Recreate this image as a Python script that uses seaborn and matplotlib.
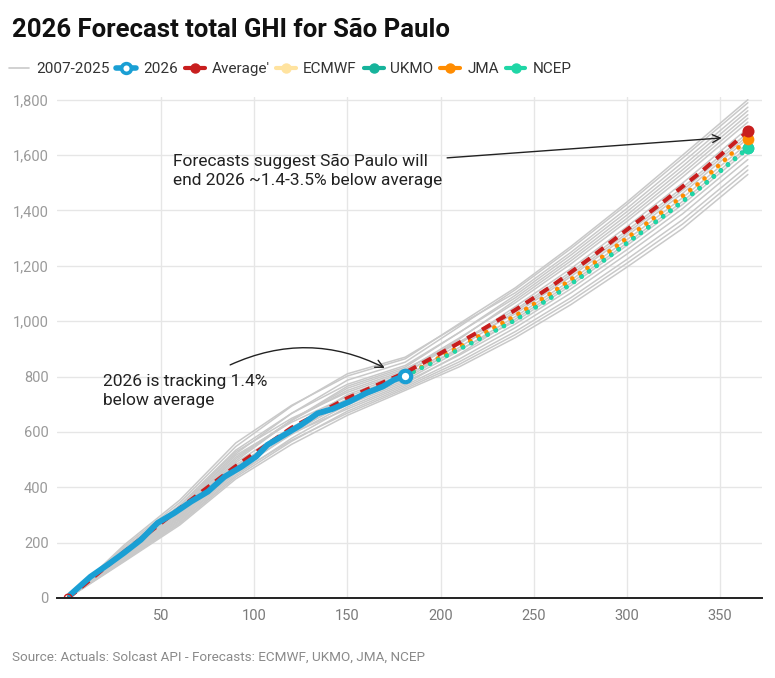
import numpy as np
import pandas as pd
import matplotlib
matplotlib.use("Agg")
import matplotlib.pyplot as plt
import seaborn as sns
from matplotlib.lines import Line2D
from matplotlib.ticker import FuncFormatter

sns.set_theme(style="white")
plt.rcParams['font.family'] = ['Roboto', 'DejaVu Sans']

# ---------------- data ----------------
hist_days = [0, 30, 60, 90, 120, 150, 181, 210, 240, 270, 300, 330, 365]
hist_years = list(range(2007, 2026))
hist_values = [
    [0, 191, 354, 560, 696, 802, 864, 991, 1120, 1270, 1430, 1600, 1800],
    [0, 173, 327, 521, 667, 787, 852, 980, 1113, 1262, 1421, 1589, 1789],
    [0, 185, 345, 547, 693, 810, 870, 987, 1102, 1249, 1407, 1574, 1773],
    [0, 161, 309, 495, 642, 765, 834, 959, 1093, 1239, 1395, 1560, 1760],
    [0, 179, 336, 534, 667, 772, 840, 959, 1084, 1228, 1383, 1547, 1746],
    [0, 149, 291, 469, 613, 735, 810, 935, 1075, 1218, 1371, 1534, 1733],
    [0, 167, 318, 508, 642, 750, 822, 939, 1066, 1207, 1360, 1521, 1719],
    [0, 158, 305, 489, 617, 720, 798, 917, 1052, 1190, 1341, 1499, 1697],
    [0, 176, 332, 528, 649, 743, 816, 924, 1041, 1178, 1327, 1483, 1681],
    [0, 143, 282, 456, 595, 713, 792, 905, 1034, 1169, 1317, 1473, 1670],
    [0, 164, 314, 502, 642, 758, 828, 925, 1026, 1161, 1308, 1462, 1660],
    [0, 152, 296, 476, 602, 705, 786, 893, 1016, 1148, 1294, 1446, 1643],
    [0, 137, 273, 443, 577, 690, 774, 881, 1007, 1138, 1282, 1433, 1630],
    [0, 170, 323, 515, 635, 728, 804, 897, 999, 1129, 1273, 1422, 1619],
    [0, 146, 287, 463, 591, 698, 780, 877, 989, 1117, 1258, 1407, 1603],
    [0, 155, 300, 482, 595, 683, 768, 863, 976, 1102, 1242, 1388, 1584],
    [0, 134, 269, 437, 566, 675, 762, 853, 962, 1085, 1223, 1367, 1562],
    [0, 140, 278, 450, 570, 668, 756, 844, 951, 1073, 1209, 1351, 1546],
    [0, 131, 264, 430, 555, 660, 750, 835, 940, 1060, 1195, 1335, 1530],
]

actual_days = [1, 12, 21, 30, 39, 48, 57, 66, 75, 84, 93, 101, 107, 116, 125,
               134, 142, 151, 160, 169, 175, 181]
actual_values = [11, 77, 119, 163, 210, 271, 307, 348, 384, 438, 474, 511, 553,
                 589, 625, 667, 683, 709, 740, 764, 788, 803]

avg_days = [0, 30, 60, 90, 120, 150, 181, 200, 220, 240, 260, 280, 300, 320, 340, 365]
avg_values = [0, 166, 324, 476, 615, 722, 814, 884, 960, 1040, 1128, 1226, 1330,
              1433, 1540, 1686]

fc_days = [181, 200, 220, 240, 260, 280, 300, 320, 340, 365]
ecmwf = [803, 869, 941, 1016, 1100, 1194, 1296, 1396, 1500, 1655]
ukmo = [803, 866, 935, 1006, 1090, 1183, 1283, 1382, 1486, 1627]
jma = [803, 871, 944, 1019, 1104, 1198, 1300, 1400, 1505, 1659]
ncep = [803, 864, 932, 1003, 1087, 1180, 1281, 1380, 1484, 1624]

x_ticks = [50, 100, 150, 200, 250, 300, 350]
y_ticks = [0, 200, 400, 600, 800, 1000, 1200, 1400, 1600, 1800]

# ---------------- colours ----------------
C_GRAY = "#c9c9c9"
C_BLUE = "#1a9fd4"
C_RED = "#c81e1e"
C_ECMWF = "#ffe39f"
C_UKMO = "#16b39b"
C_JMA = "#ff8c00"
C_NCEP = "#1fd6a6"

fig = plt.figure(figsize=(7.75, 6.78), dpi=100)
ax = fig.add_axes([0.0735, 0.118, 0.9095, 0.739])

# historical years
rows = []
for yr, vals in zip(hist_years, hist_values):
    for d, v in zip(hist_days, vals):
        rows.append((yr, d, v))
df_hist = pd.DataFrame(rows, columns=["year", "day", "ghi"])
sns.lineplot(data=df_hist, x="day", y="ghi", units="year", estimator=None,
             color=C_GRAY, linewidth=1.1, ax=ax, legend=False, zorder=2)

dot_style = (0, (0.01, 2.0))
for vals, col in [(ecmwf, C_ECMWF), (ukmo, C_UKMO), (jma, C_JMA), (ncep, C_NCEP)]:
    sns.lineplot(x=fc_days, y=vals, color=col, linewidth=3.3, linestyle=dot_style,
                 dash_capstyle="round", ax=ax, zorder=3)

sns.lineplot(x=avg_days, y=avg_values, color=C_RED, linewidth=3.0,
             linestyle=(0, (2.4, 1.7)), ax=ax, zorder=4)

sns.lineplot(x=actual_days, y=actual_values, color=C_BLUE, linewidth=4.2,
             solid_capstyle="round", solid_joinstyle="round", ax=ax, zorder=5)

# end markers
ax.scatter([avg_days[0]], [avg_values[0]], s=30, facecolor="none", edgecolor=C_RED,
           linewidth=1.0, zorder=6)
for vals, col in [(ecmwf, C_ECMWF), (ukmo, C_UKMO), (ncep, C_NCEP), (jma, C_JMA)]:
    ax.scatter([fc_days[-1]], [vals[-1]], s=70, color=col, zorder=6, linewidth=0)
ax.scatter([avg_days[-1]], [avg_values[-1]], s=75, color=C_RED, zorder=7, linewidth=0)
ax.scatter([actual_days[-1]], [actual_values[-1]], s=68, facecolor="white",
           edgecolor=C_BLUE, linewidth=3.0, zorder=8)

# axes styling
ax.set_xlim(-6, 372.5)
ax.set_ylim(0, 1810)
ax.set_xticks(x_ticks)
ax.set_yticks(y_ticks)
ax.yaxis.set_major_formatter(FuncFormatter(lambda v, p: f"{int(v):,}"))
ax.grid(True, color="#e6e6e6", linewidth=1.0, zorder=0)
ax.set_axisbelow(True)
for s in ["top", "right", "left"]:
    ax.spines[s].set_visible(False)
ax.spines["bottom"].set_color("#222222")
ax.spines["bottom"].set_linewidth(1.4)
ax.spines["bottom"].set_zorder(9)
ax.tick_params(axis="y", length=0, pad=6, labelsize=10.5, labelcolor="#9a9a9a")
ax.tick_params(axis="x", length=0, pad=8, labelsize=10.5, labelcolor="#7a7a7a")
ax.set_xlabel("")
ax.set_ylabel("")

# annotations
ax.annotate("", xy=(351, 1662), xytext=(203.5, 1590),
            arrowprops=dict(arrowstyle="->", color="#222222", lw=1.0,
                            shrinkA=0, shrinkB=0, mutation_scale=14), zorder=10)
ax.text(56.4, 1543, "Forecasts suggest São Paulo will\nend 2026 ~1.4-3.5% below average",
        fontsize=12.5, color="#222222", va="center", ha="left", linespacing=1.28, zorder=10)

ax.annotate("", xy=(170, 831), xytext=(87, 842),
            arrowprops=dict(arrowstyle="->", color="#222222", lw=1.0,
                            connectionstyle="arc3,rad=-0.24",
                            shrinkA=0, shrinkB=0, mutation_scale=14), zorder=10)
ax.text(18.8, 748, "2026 is tracking 1.4%\nbelow average",
        fontsize=12.5, color="#222222", va="center", ha="left", linespacing=1.28, zorder=10)

# legend
handles = [
    Line2D([], [], color=C_GRAY, lw=1.2),
    Line2D([], [], color=C_BLUE, lw=4, marker="o", markersize=7,
           markerfacecolor="white", markeredgecolor=C_BLUE, markeredgewidth=2.6),
    Line2D([], [], color=C_RED, lw=3, marker="o", markersize=6.5),
    Line2D([], [], color=C_ECMWF, lw=3, marker="o", markersize=6.5),
    Line2D([], [], color=C_UKMO, lw=3, marker="o", markersize=6.5),
    Line2D([], [], color=C_JMA, lw=3, marker="o", markersize=6.5),
    Line2D([], [], color=C_NCEP, lw=3, marker="o", markersize=6.5),
]
labels = ["2007-2025", "2026", "Average'", "ECMWF", "UKMO", "JMA", "NCEP"]
leg = fig.legend(handles, labels, loc="upper left", bbox_to_anchor=(0.004, 0.917),
                 ncol=7, frameon=False, fontsize=11, handlelength=1.3,
                 handletextpad=0.45, columnspacing=0.45, borderaxespad=0)
for t in leg.get_texts():
    t.set_color("#333333")

fig.text(0.015, 1 - 30 / 678, "2026 Forecast total GHI for São Paulo",
         fontsize=18.5, fontweight="bold", color="#111111", va="center", ha="left")
fig.text(0.015, 1 - 657 / 678, "Source: Actuals: Solcast API - Forecasts: ECMWF, UKMO, JMA, NCEP",
         fontsize=9.7, color="#8a8a8a", va="center", ha="left")

fig.savefig("out.png", dpi=100)
